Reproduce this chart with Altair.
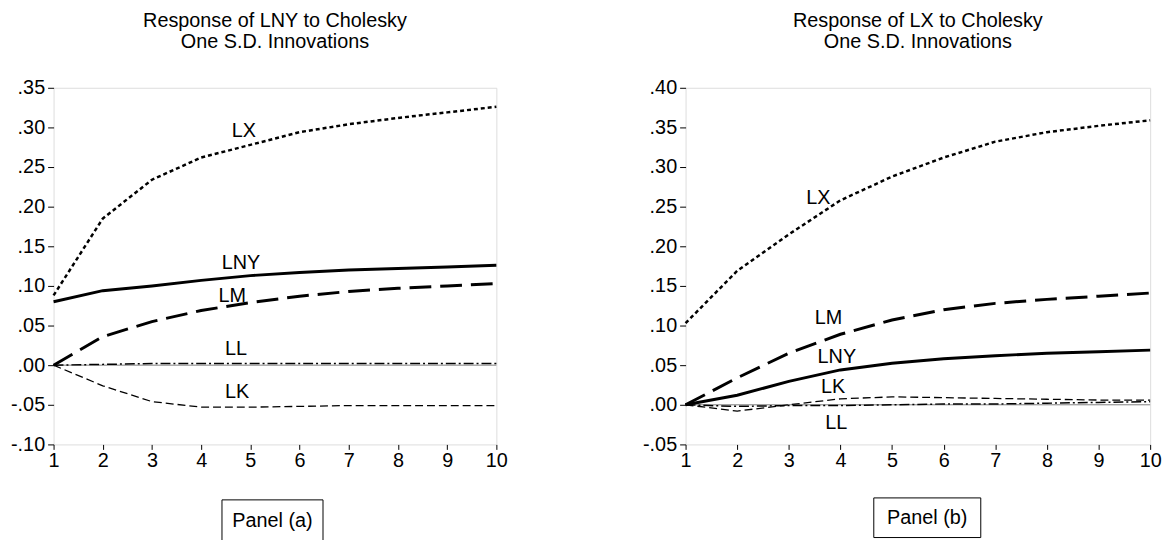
import altair as alt
import pandas as pd

FONT = "Liberation Sans"
FS = 20
steps = list(range(1, 11))

# Panel (a): Response of LNY
a_LNY = [0.080, 0.094, 0.100, 0.107, 0.113, 0.117, 0.120, 0.122, 0.124, 0.126]
a_LX = [0.088, 0.185, 0.234, 0.262, 0.278, 0.294, 0.304, 0.312, 0.319, 0.326]
a_LM = [0.000, 0.036, 0.055, 0.069, 0.079, 0.087, 0.093, 0.097, 0.100, 0.103]
a_LL = [0.000, 0.001, 0.002, 0.002, 0.002, 0.002, 0.002, 0.002, 0.002, 0.002]
a_LK = [0.000, -0.026, -0.046, -0.053, -0.053, -0.052, -0.051, -0.051, -0.051, -0.051]

# Panel (b): Response of LX
b_LNY = [0.000, 0.012, 0.0295, 0.044, 0.0525, 0.058, 0.062, 0.065, 0.067, 0.069]
b_LX = [0.103, 0.169, 0.215, 0.258, 0.288, 0.312, 0.332, 0.344, 0.352, 0.359]
b_LM = [0.000, 0.034, 0.065, 0.089, 0.107, 0.120, 0.128, 0.133, 0.137, 0.141]
b_LK = [0.000, -0.008, 0.000, 0.0075, 0.010, 0.009, 0.008, 0.007, 0.006, 0.006]
b_LL = [0.000, -0.002, -0.001, -0.001, 0.000, 0.001, 0.001, 0.002, 0.003, 0.004]

# curve label positions (data units)
a_lab_text = ["LX", "LNY", "LM", "LL", "LK"]
a_lab_x = [4.87, 4.81, 4.63, 4.71, 4.73]
a_lab_y = [0.295, 0.129, 0.087, 0.020, -0.034]

b_lab_text = ["LX", "LM", "LNY", "LK", "LL"]
b_lab_x = [3.57, 3.77, 3.93, 3.86, 3.92]
b_lab_y = [0.261, 0.110, 0.060, 0.0225, -0.0225]

a_ticks = [-0.10, -0.05, 0.00, 0.05, 0.10, 0.15, 0.20, 0.25, 0.30, 0.35]
b_ticks = [-0.05, 0.00, 0.05, 0.10, 0.15, 0.20, 0.25, 0.30, 0.35, 0.40]

styles = {
    "LNY": dict(strokeWidth=3.0),
    "LX": dict(strokeWidth=2.5, strokeDash=[4, 3]),
    "LM": dict(strokeWidth=3.0, strokeDash=[22, 9]),
    "LL": dict(strokeWidth=1.5, strokeDash=[10, 3, 2, 3]),
    "LK": dict(strokeWidth=1.3, strokeDash=[8, 4]),
}


def panel(series, title, ticks, lab_text, lab_x, lab_y, ptext, box, width, extent):
    lo, hi = ticks[0], ticks[-1]
    x_axis = alt.Axis(values=steps, title=None, grid=False, domain=False,
                      tickSize=5, tickColor="black", labelFontSize=FS,
                      labelFont=FONT, labelColor="black", labelPadding=1,
                      labelOverlap=False, labelFlush=False)
    y_axis = alt.Axis(values=ticks, title=None, grid=False, domain=False,
                      tickSize=6, tickColor="black", labelFontSize=FS, labelFont=FONT,
                      labelColor="black", labelPadding=3, minExtent=extent, maxExtent=extent,
                      labelOverlap=False, labelFlush=False,
                      labelExpr="replace(replace(format(datum.value, '.2f'), '\u2212', '-'), '0.', '.')")
    xs = alt.Scale(domain=[1, 10], nice=False)
    ys = alt.Scale(domain=[lo, hi], nice=False)

    def X(f):
        return alt.X(f, scale=xs, axis=x_axis)

    def Y(f):
        return alt.Y(f, scale=ys, axis=y_axis)

    zero = alt.Chart(pd.DataFrame({"v": [0.0]})).mark_rule(
        color="#808080", strokeWidth=1).encode(y=Y("v:Q"))
    layers = [zero]
    for name, vals in series:
        df = pd.DataFrame({"step": steps, "value": vals})
        layers.append(alt.Chart(df).mark_line(color="black", **styles[name]).encode(
            x=X("step:Q"), y=Y("value:Q")))
    ldf = pd.DataFrame({"x": lab_x, "y": lab_y, "t": lab_text})
    layers.append(alt.Chart(ldf).mark_text(fontSize=FS, font=FONT, color="black").encode(
        x=X("x:Q"), y=Y("y:Q"), text="t:N"))
    pdf = pd.DataFrame({"t": [ptext]})
    layers.append(alt.Chart(pdf).mark_rect(fill="white", stroke="black", strokeWidth=1).encode(
        x=alt.value(box[0]), x2=alt.value(box[1]), y=alt.value(box[2]), y2=alt.value(box[3])))
    layers.append(alt.Chart(pdf).mark_text(fontSize=FS, font=FONT, color="black").encode(
        x=alt.value((box[0] + box[1]) / 2), y=alt.value(box[4]), text="t:N"))
    return alt.layer(*layers).properties(
        width=width, height=360,
        title=alt.TitleParams(text=title, fontSize=FS, font=FONT, fontWeight="normal",
                              color="black", anchor="middle", offset=26, lineHeight=21))


left = panel([("LNY", a_LNY), ("LX", a_LX), ("LM", a_LM), ("LL", a_LL), ("LK", a_LK)],
             ["Response of LNY to Cholesky", "One S.D. Innovations"], a_ticks,
             a_lab_text, a_lab_x, a_lab_y, "Panel (a)", (170, 272, 416, 460, 437), 447, 45)
right = panel([("LNY", b_LNY), ("LX", b_LX), ("LM", b_LM), ("LK", b_LK), ("LL", b_LL)],
              ["Response of LX to Cholesky", "One S.D. Innovations"], b_ticks,
              b_lab_text, b_lab_x, b_lab_y, "Panel (b)", (190, 298, 414, 454, 434), 469, 45)

chart = alt.hconcat(left, right, spacing=133).properties(
    padding={"left": 0, "top": 0, "right": 5, "bottom": 0}
).configure_view(stroke="black", strokeWidth=2).configure(background="white")

chart.save("out.html", embed_options={"renderer": "svg", "actions": False})
